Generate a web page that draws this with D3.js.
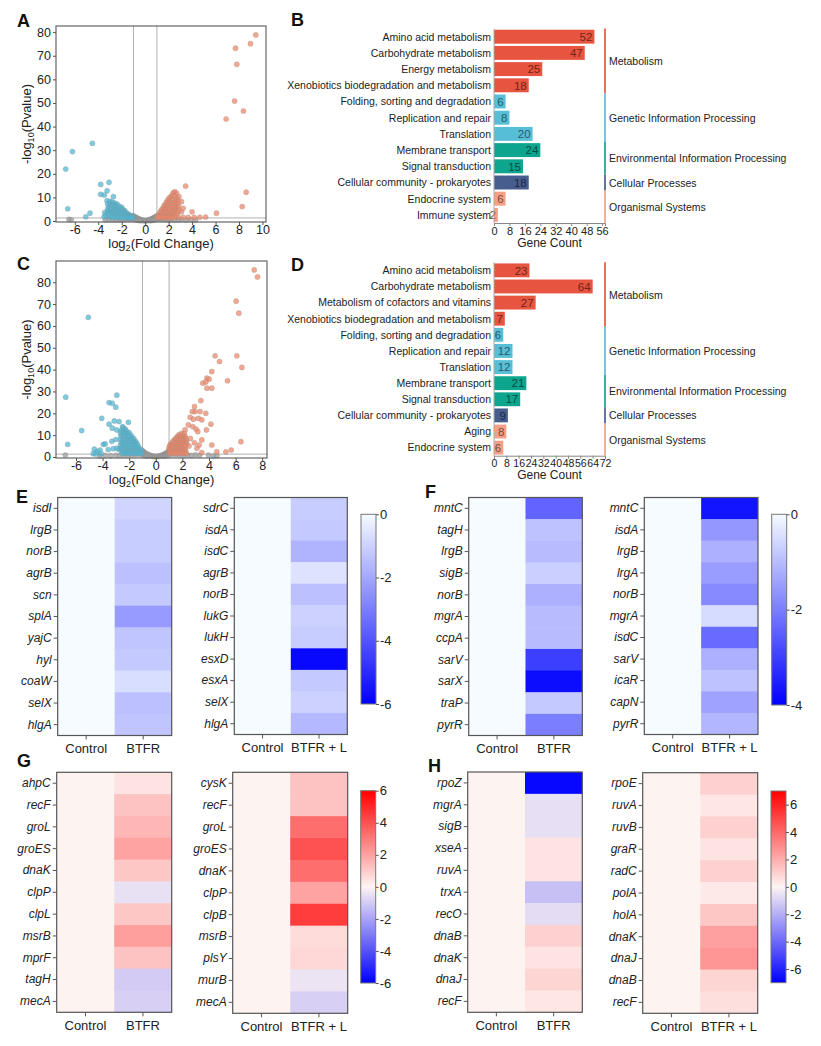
<!DOCTYPE html>
<html>
<head>
<meta charset="utf-8">
<script src="https://cdn.jsdelivr.net/npm/d3@7"></script>
<style>
body{margin:0;background:#fff;}
svg{font-family:Arial,"Liberation Sans",sans-serif;}
</style>
</head>
<body>
<script>
// ---------- volcano A (BTFR vs control) ----------
var aUp = [[9.43,78.8],[8.98,75.1],[7.70,73.2],[7.81,66.4],[7.62,50.8],[8.38,46.6],[6.90,43.2],[8.61,12.2],[8.27,6.1],[6.08,3.3],[3.45,14.8],[4.0,3.9],
	[2.54,12.4],[2.68,11.7],[2.88,10.3],[3.1,8.2],[3.24,5.4],[3.1,3.9],
	[2.82,1.6],[3.24,1.5],[3.67,1.5],[4.18,1.5],[4.66,1.6],[5.15,1.7],
	[2.4,12.0],[2.3,11.0],[2.2,10.2],[2.05,9.8],[2.5,10.5],[2.7,9.5],
	[1.9,8.8],[2.1,8.8],[2.35,9.0],[2.6,8.7],[2.8,8.5],
	[1.8,7.8],[2.0,7.8],[2.25,7.9],[2.5,7.7],[2.75,7.4],
	[1.65,6.8],[1.85,6.8],[2.1,6.8],[2.35,6.7],[2.6,6.6],[2.85,6.3],
	[1.55,5.8],[1.75,5.8],[2.0,5.8],[2.25,5.7],[2.5,5.6],[2.75,5.4],
	[1.4,4.8],[1.6,4.8],[1.85,4.8],[2.1,4.7],[2.35,4.6],[2.6,4.5],[2.85,4.4],
	[1.3,3.9],[1.5,3.9],[1.75,3.8],[2.0,3.8],[2.25,3.7],[2.5,3.6],[2.75,3.4],
	[1.2,3.0],[1.4,3.0],[1.65,2.9],[1.9,2.9],[2.15,2.8],[2.4,2.7],[2.65,2.6],
	[1.1,2.1],[1.3,2.1],[1.55,2.0],[1.8,2.0],[2.05,1.9],[2.3,1.9],[2.55,1.8],
	[1.05,1.5],[1.25,1.5],[1.5,1.5],[1.75,1.5],[2.0,1.45],[2.25,1.4]];
var aDown = [[-4.5,32.9],[-6.2,29.4],[-6.77,22.0],[-3.79,15.5],[-3.08,16.4],[-3.24,12.8],[-3.79,11.3],[-3.48,11.0],[-2.71,10.3],[-6.6,5.2],[-4.7,3.3],[-5.06,1.8],[-3.45,3.6],[-3.35,2.4],[-3.2,4.1],[-3.5,1.8],
	[-3.25,8.6],[-3.0,8.3],[-2.8,8.0],[-2.6,7.6],[-2.4,7.2],
	[-3.2,7.2],[-2.95,7.0],[-2.7,6.8],[-2.45,6.5],[-2.2,6.2],[-2.0,5.8],
	[-3.1,6.0],[-2.85,5.8],[-2.6,5.6],[-2.35,5.4],[-2.1,5.1],[-1.9,4.8],[-1.75,4.4],
	[-3.2,5.0],[-2.95,4.8],[-2.7,4.6],[-2.45,4.4],[-2.2,4.2],[-1.95,4.0],[-1.7,3.7],[-1.55,3.4],
	[-3.05,3.8],[-2.8,3.7],[-2.55,3.5],[-2.3,3.3],[-2.05,3.1],[-1.8,2.9],[-1.6,2.8],[-1.4,2.7],[-1.25,2.4],
	[-3.1,2.8],[-2.85,2.6],[-2.6,2.5],[-2.35,2.3],[-2.1,2.2],[-1.85,2.1],[-1.6,2.0],[-1.4,1.9],[-1.2,1.9],[-1.05,1.8],
	[-3.0,1.7],[-2.75,1.6],[-2.5,1.5],[-2.25,1.5],[-2.0,1.4],[-1.75,1.4],[-1.5,1.4],[-1.3,1.4],[-1.1,1.4]];
var aNs = [[-1.0,2.2],[-0.9,1.9],[-0.8,1.6],[-0.7,1.3],[-0.6,1.05],[-0.5,0.8],[-0.4,0.6],[-0.3,0.4],[-0.2,0.25],[-0.1,0.15],[0,0.1],[0.1,0.15],[0.2,0.25],[0.3,0.4],[0.4,0.6],[0.5,0.8],[0.6,1.05],[0.7,1.3],[0.8,1.6],[0.9,1.9],[1.0,2.2],
	[-0.95,1.3],[-0.85,1.0],[-0.75,0.8],[-0.65,0.6],[-0.55,0.45],[-0.45,0.3],[-0.35,0.2],[0.35,0.2],[0.45,0.3],[0.55,0.45],[0.65,0.6],[0.75,0.8],[0.85,1.0],[0.95,1.3],
	[-0.9,0.6],[-0.7,0.35],[-0.5,0.2],[0.5,0.2],[0.7,0.35],[0.9,0.6],
	[-1.2,0.9],[-1.4,0.8],[-1.6,0.7],[-1.8,0.6],[-2.0,0.5],[-2.2,0.5],[-2.5,0.4],[-2.8,0.5],[-3.1,0.6],[-3.4,0.4],[-6.5,0.7],[-6.3,0.5],
	[1.2,0.9],[1.4,0.8],[1.6,0.7],[1.8,0.6],[2.0,0.5],[2.2,0.5],[2.5,0.4],[2.8,0.5],[3.1,0.6],[3.5,0.4],[3.9,0.5],[4.3,0.3],
	[-1.1,1.1],[-1.3,1.0],[1.1,1.1],[1.3,1.0]];
var aXTicks = [-6,-4,-2,0,2,4,6,8,10];
var aYTicks = [0,10,20,30,40,50,60,70,80];

// ---------- volcano C (BTFR + L vs control) ----------
var cUp = [[7.40,85.6],[7.65,82.4],[6.04,71.3],[6.24,65.8],[6.09,46.3],[6.47,41.0],[5.39,34.9],[4.46,46.3],[4.79,43.7],[4.21,39.1],[3.84,36.1],[4.01,35.6],[3.53,33.8],[3.76,34.3],[3.84,31.5],[4.21,31.5],[3.39,25.8],[2.91,23.1],[2.96,20.8],[2.75,20.8],[3.33,20.8],[3.76,20.0],[3.2,17.7],[3.46,17.0],[2.58,18.2],[2.83,17.3],[4.14,15.0],[2.45,14.7],[2.78,13.9],[3.03,12.8],[3.16,11.6],[3.81,12.4],[2.2,12.4],[6.40,7.0],[3.46,7.8],[3.26,5.5],[3.09,4.0],[4.21,5.5],[5.67,3.2],[5.27,2.4],[4.59,2.4],[3.46,2.0],[2.6,8.5],[2.9,6.5],[2.5,5.0],
	[1.75,10.3],[1.95,10.8],[2.15,10.6],
	[1.6,9.3],[1.8,9.5],[2.0,9.6],[2.2,9.4],
	[1.45,8.3],[1.65,8.5],[1.85,8.6],[2.05,8.6],[2.25,8.4],
	[1.3,7.3],[1.5,7.5],[1.7,7.6],[1.9,7.6],[2.1,7.6],[2.3,7.4],
	[1.15,6.3],[1.35,6.5],[1.55,6.6],[1.75,6.6],[1.95,6.6],[2.15,6.6],[2.32,6.4],
	[1.05,5.3],[1.25,5.5],[1.45,5.6],[1.65,5.6],[1.85,5.6],[2.05,5.6],[2.25,5.5],
	[1.0,4.3],[1.2,4.5],[1.4,4.6],[1.6,4.6],[1.8,4.6],[2.0,4.6],[2.2,4.5],
	[1.0,3.4],[1.2,3.5],[1.4,3.6],[1.6,3.6],[1.8,3.6],[2.0,3.6],[2.2,3.5],
	[1.05,2.5],[1.25,2.6],[1.45,2.6],[1.65,2.6],[1.85,2.6],[2.05,2.6],[2.25,2.5],
	[1.1,1.7],[1.3,1.7],[1.5,1.7],[1.7,1.7],[1.9,1.7],[2.1,1.7],[2.3,1.6]];
var cDown = [[-6.77,27.4],[-2.93,28.3],[-3.51,24.9],[-3.27,24.6],[-3.01,22.8],[-4.06,17.7],[-5.57,12.1],[-5.07,63.9],[-3.12,16.5],[-3.51,15.0],[-2.76,16.2],[-2.06,15.9],[-3.27,13.2],[-2.93,12.4],[-2.5,13.9],[-6.62,5.8],[-3.94,5.8],[-4.62,3.6],[-4.19,3.2],[-3.57,3.4],[-3.19,3.8],[-2.93,4.0],[-2.76,3.4],[-4.7,1.5],[-4.5,1.4],[-4.1,1.5],[-3.3,7.2],[-3.0,8.0],[-4.4,2.5],[-3.8,6.0],
	[-2.45,13.2],[-2.3,12.9],
	[-2.6,12.0],[-2.4,12.1],[-2.2,11.8],[-2.0,11.2],
	[-2.65,10.8],[-2.45,10.9],[-2.25,10.7],[-2.05,10.4],[-1.85,9.8],
	[-2.6,9.5],[-2.4,9.5],[-2.2,9.4],[-2.0,9.2],[-1.8,8.9],[-1.65,8.4],
	[-2.65,8.1],[-2.45,8.1],[-2.25,8.0],[-2.05,7.9],[-1.85,7.7],[-1.65,7.3],[-1.5,7.0],
	[-2.6,6.7],[-2.4,6.7],[-2.2,6.7],[-2.0,6.6],[-1.8,6.5],[-1.6,6.3],[-1.4,6.0],
	[-2.65,5.4],[-2.45,5.4],[-2.25,5.4],[-2.05,5.3],[-1.85,5.3],[-1.65,5.2],[-1.45,5.0],[-1.3,4.8],
	[-2.6,4.1],[-2.4,4.1],[-2.2,4.1],[-2.0,4.0],[-1.8,4.0],[-1.6,3.9],[-1.4,3.8],[-1.2,3.6],[-1.05,3.2],
	[-2.55,2.8],[-2.35,2.8],[-2.15,2.8],[-1.95,2.7],[-1.75,2.7],[-1.55,2.6],[-1.35,2.6],[-1.15,2.5],
	[-2.5,1.7],[-2.3,1.7],[-2.1,1.7],[-1.9,1.7],[-1.7,1.6],[-1.5,1.6],[-1.3,1.6],[-1.1,1.6]];
var cNs = [[-1.0,2.8],[-0.9,2.3],[-0.8,1.9],[-0.7,1.5],[-0.6,1.2],[-0.5,0.9],[-0.4,0.7],[-0.3,0.5],[-0.2,0.35],[-0.1,0.25],[0,0.2],[0.1,0.25],[0.2,0.35],[0.3,0.5],[0.4,0.7],[0.5,0.9],[0.6,1.2],[0.7,1.5],[0.8,1.9],[0.9,2.3],[1.0,2.8],
	[-0.95,1.6],[-0.85,1.2],[-0.75,0.9],[-0.65,0.7],[-0.55,0.5],[0.55,0.5],[0.65,0.7],[0.75,0.9],[0.85,1.2],[0.95,1.6],
	[-0.9,0.7],[-0.7,0.45],[0.7,0.45],[0.9,0.7],
	[-1.2,1.1],[-1.5,1.0],[-1.8,0.9],[-2.1,0.8],[-2.4,0.9],[-2.7,0.7],[-3.0,0.8],[-3.4,0.6],[-3.8,0.7],[-4.2,0.5],[-6.8,0.9],
	[1.2,1.1],[1.5,1.0],[1.8,0.9],[2.1,0.8],[2.4,0.9],[2.7,0.7],[3.0,1.0],[3.3,0.8],[3.96,0.9],[4.33,0.5],[4.6,0.6]];
var cXTicks = [-6,-4,-2,0,2,4,6,8];
var cYTicks = [0,10,20,30,40,50,60,70,80];

// ---------- KEGG bars ----------
var groupNames = ["Metabolism","Genetic Information Processing","Environmental Information Processing","Cellular Processes","Organismal Systems"];
var groupColors = ["#E64B35","#4DBBD5","#00A087","#3C5488","#F39B7F"];

var bCats = ["Amino acid metabolism","Carbohydrate metabolism","Energy metabolism","Xenobiotics biodegradation and metabolism","Folding, sorting and degradation","Replication and repair","Translation","Membrane transport","Signal transduction","Cellular community - prokaryotes","Endocrine system","Immune system"];
var bVals = [52,47,25,18,6,8,20,24,15,18,6,2];
var bGroup = [0,0,0,0,1,1,1,2,2,3,4,4];
var bTicks = [0,8,16,24,32,40,48,56];

var dCats = ["Amino acid metabolism","Carbohydrate metabolism","Metabolism of cofactors and vitamins","Xenobiotics biodegradation and metabolism","Folding, sorting and degradation","Replication and repair","Translation","Membrane transport","Signal transduction","Cellular community - prokaryotes","Aging","Endocrine system"];
var dVals = [23,64,27,7,6,12,12,21,17,9,8,6];
var dGroup = [0,0,0,0,1,1,1,2,2,3,4,4];
var dTicks = [0,8,16,24,32,40,48,56,64,72];

// ---------- heatmaps (log2 fold change, control = 0) ----------
var eGenes1 = ["isdI","lrgB","norB","agrB","scn","splA","yajC","hyl","coaW","selX","hlgA"];
var eVals1 = [-0.9,-1.1,-1.1,-1.4,-1.2,-2.3,-1.3,-1.2,-0.7,-1.4,-1.3];
var eGenes2 = ["sdrC","isdA","isdC","agrB","norB","lukG","lukH","esxD","esxA","selX","hlgA"];
var eVals2 = [-1.1,-1.2,-1.7,-0.6,-1.4,-1.0,-1.1,-5.8,-1.2,-1.0,-1.6];
var fGenes1 = ["mntC","tagH","lrgB","sigB","norB","mgrA","ccpA","sarV","sarX","traP","pyrR"];
var fVals1 = [-2.4,-0.9,-1.0,-0.7,-1.2,-1.0,-1.0,-3.0,-3.8,-0.8,-2.0];
var fGenes2 = ["mntC","isdA","lrgB","lrgA","norB","mgrA","isdC","sarV","icaR","capN","pyrR"];
var fVals2 = [-3.7,-1.6,-1.2,-1.5,-1.8,-0.5,-2.3,-1.2,-0.9,-1.4,-1.1];
var gGenes1 = ["ahpC","recF","groL","groES","dnaK","clpP","clpL","msrB","mprF","tagH","mecA"];
var gVals1 = [0.4,1.2,1.5,2.0,1.1,-0.5,1.1,2.1,1.2,-1.0,-0.9];
var gGenes2 = ["cysK","recF","groL","groES","dnaK","clpP","clpB","msrB","plsY","murB","mecA"];
var gVals2 = [1.2,1.2,3.3,4.0,3.3,2.0,4.5,0.6,0.7,-0.4,-0.9];
var hGenes1 = ["rpoZ","mgrA","sigB","xseA","ruvA","trxA","recO","dnaB","dnaK","dnaJ","recF"];
var hVals1 = [-6.8,-0.6,-0.6,0.5,0.5,-1.5,-0.7,1.0,0.5,0.9,0.4];
var hGenes2 = ["rpoE","ruvA","ruvB","graR","radC","polA","holA","dnaK","dnaJ","dnaB","recF"];
var hVals2 = [1.0,0.4,1.0,0.5,1.0,0.3,1.3,2.4,2.7,0.9,0.6];
var controlVal = 0;
var eTicks = [0,-2,-4,-6], fTicks = [0,-2,-4], gTicks = [6,4,2,0,-2,-4,-6];

var svg = d3.select("body").append("svg").attr("width",821).attr("height",1046);
svg.append("rect").attr("width",821).attr("height",1046).attr("fill","#fff");

function letter(t,x,y){
	svg.append("text").attr("x",x).attr("y",y).attr("font-size",18).attr("font-weight","bold").attr("fill","#111").text(t);
}

function styleAxis(a, fs){
	a.select(".domain").remove();
	a.selectAll("line").attr("stroke","#555");
	a.selectAll("text").attr("font-size",fs).attr("fill","#222").attr("font-family","Arial, 'Liberation Sans', sans-serif");
}

function volcano(o){
	var g = svg.append("g");
	var x = d3.scaleLinear().domain(o.xd).range([o.l,o.r]);
	var y = d3.scaleLinear().domain(o.yd).range([o.b,o.t]);
	// cut-off lines
	[-1,1].forEach(function(v){
		g.append("line").attr("x1",x(v)).attr("x2",x(v)).attr("y1",o.t).attr("y2",o.b).attr("stroke","#b0b0b0").attr("stroke-width",1);
	});
	g.append("line").attr("x1",o.l).attr("x2",o.r).attr("y1",y(1.3)).attr("y2",y(1.3)).attr("stroke","#b0b0b0").attr("stroke-width",1);
	[[o.ns,"#9a9a9a"],[o.down,"#4cb6d2"],[o.up,"#ef8565"]].forEach(function(s){
		g.append("g").selectAll("circle").data(s[0]).enter().append("circle")
			.attr("cx",function(d){ return x(d[0]);}).attr("cy",function(d){ return y(d[1]);})
			.attr("r",2.6).attr("fill",s[1]).attr("fill-opacity",0.72)
			.attr("stroke","#8c8c8c").attr("stroke-opacity",0.45).attr("stroke-width",0.6);
	});
	g.append("rect").attr("x",o.l).attr("y",o.t).attr("width",o.r-o.l).attr("height",o.b-o.t)
		.attr("fill","none").attr("stroke","#666").attr("stroke-width",1.2);
	var ax = g.append("g").attr("transform","translate(0,"+o.b+")")
		.call(d3.axisBottom(x).tickValues(o.xt).tickSize(3).tickPadding(0).tickFormat(function(d){ return String(d);}));
	styleAxis(ax,12.5);
	var ay = g.append("g").attr("transform","translate("+o.l+",0)")
		.call(d3.axisLeft(y).tickValues(o.yt).tickSize(3).tickPadding(2).tickFormat(function(d){ return String(d);}));
	styleAxis(ay,12.5);
	var t = g.append("text").attr("transform","translate("+o.yl+","+((o.t+o.b)/2)+") rotate(-90)")
		.attr("text-anchor","middle").attr("font-size",13).attr("fill","#222");
	t.append("tspan").text("-log");
	t.append("tspan").attr("font-size",9).attr("dy",3).text("10");
	t.append("tspan").attr("dy",-3).text("(Pvalue)");
	var xt = g.append("text").attr("x",(o.l+o.r)/2).attr("y",o.xl).attr("text-anchor","middle").attr("font-size",13).attr("fill","#222");
	xt.append("tspan").text("log");
	xt.append("tspan").attr("font-size",9).attr("dy",3).text("2");
	xt.append("tspan").attr("dy",-3).text("(Fold Change)");
}

function bars(o){
	var g = svg.append("g");
	var y = d3.scaleBand().domain(d3.range(o.cats.length)).range([o.t,o.b]).paddingInner(0.14).paddingOuter(0.07);
	var x = d3.scaleLinear().domain([0,o.max]).range([o.l,o.r]);
	var half = y.step()*y.paddingInner()/2;
	g.selectAll("rect.bar").data(o.vals).enter().append("rect")
		.attr("x",o.l).attr("y",function(d,i){ return y(i);})
		.attr("width",function(d){ return x(d)-o.l;}).attr("height",y.bandwidth())
		.attr("fill",function(d,i){ return groupColors[o.grp[i]];}).attr("fill-opacity",0.95);
	g.selectAll("text.val").data(o.vals).enter().append("text")
		.attr("x",function(d){ return x(d)-2;}).attr("y",function(d,i){ return y(i)+y.bandwidth()/2+4.2;})
		.attr("text-anchor","end").attr("font-size",11.5)
		.attr("fill",function(d,i){ return d3.color(groupColors[o.grp[i]]).darker(2).formatHex();})
		.text(function(d){ return d;});
	g.selectAll("text.cat").data(o.cats).enter().append("text")
		.attr("x",o.l-3).attr("y",function(d,i){ return y(i)+y.bandwidth()/2+3.8;})
		.attr("text-anchor","end").attr("font-size",10.5).attr("fill","#222").text(function(d){ return d;});
	g.append("line").attr("x1",o.l).attr("x2",o.l).attr("y1",o.t).attr("y2",o.b).attr("stroke","#aaa");
	var ax = g.append("g").attr("transform","translate(0,"+o.b+")")
		.call(d3.axisBottom(x).tickValues(o.ticks).tickSize(3).tickPadding(1));
	ax.select(".domain").attr("stroke","#888");
	ax.selectAll("line").attr("stroke","#888");
	ax.selectAll("text").attr("font-size",o.tfs).attr("fill","#222");
	g.append("text").attr("x",(o.l+o.r)/2).attr("y",o.b+23.5).attr("text-anchor","middle").attr("font-size",12).attr("fill","#222").text("Gene Count");
	// group brackets
	groupNames.forEach(function(name,k){
		var idx = o.grp.map(function(d,i){ return d==k ? i : -1;}).filter(function(i){ return i>=0;});
		var y0 = y(idx[0])-half, y1 = y(idx[idx.length-1])+y.bandwidth()+half;
		g.append("line").attr("x1",o.r).attr("x2",o.r).attr("y1",y0).attr("y2",y1).attr("stroke",groupColors[k]).attr("stroke-width",1.6);
		g.append("text").attr("x",o.r+4).attr("y",(y0+y1)/2+4).attr("font-size",10.5).attr("fill","#222").text(name);
	});
}

function heat(o){
	var g = svg.append("g");
	var x = d3.scaleBand().domain(["Control",o.lab]).range([o.l,o.r]);
	var y = d3.scaleBand().domain(d3.range(o.genes.length)).range([o.t,o.b]);
	g.selectAll("rect.c").data(o.genes).enter().append("rect")
		.attr("x",x("Control")).attr("y",function(d,i){ return y(i);})
		.attr("width",x.bandwidth()+0.5).attr("height",y.bandwidth()+0.5).attr("fill",o.color(controlVal));
	g.selectAll("rect.t").data(o.vals).enter().append("rect")
		.attr("x",x(o.lab)).attr("y",function(d,i){ return y(i);})
		.attr("width",x.bandwidth()).attr("height",y.bandwidth()+0.5).attr("fill",function(d){ return o.color(d);});
	g.append("rect").attr("x",o.l).attr("y",o.t).attr("width",o.r-o.l).attr("height",o.b-o.t)
		.attr("fill","none").attr("stroke","#555").attr("stroke-width",1.2);
	var ay = g.append("g").attr("transform","translate("+o.l+",0)")
		.call(d3.axisLeft(y).tickSize(4).tickPadding(2).tickFormat(function(i){ return o.genes[i];}));
	styleAxis(ay,12);
	ay.selectAll("text").attr("font-style","italic");
	var ax = g.append("g").attr("transform","translate(0,"+o.b+")")
		.call(d3.axisBottom(x).tickSize(4).tickPadding(4));
	styleAxis(ax,13);
}

function colorbar(o){
	var id = "grad"+o.id;
	var s = d3.scaleLinear().domain(o.dom).range([o.b,o.t]);
	var lg = svg.append("defs").append("linearGradient").attr("id",id).attr("x1",0).attr("x2",0).attr("y1",0).attr("y2",1);
	var lo = o.dom[0], hi = o.dom[1];
	o.color.domain().slice().reverse().forEach(function(v){
		lg.append("stop").attr("offset",(hi-Math.max(lo,Math.min(hi,v)))/(hi-lo)).attr("stop-color",o.color(v));
	});
	svg.append("rect").attr("x",o.l).attr("y",o.t).attr("width",o.r-o.l).attr("height",o.b-o.t)
		.attr("fill","url(#"+id+")").attr("stroke","#777").attr("stroke-width",1);
	var a = svg.append("g").attr("transform","translate("+o.r+",0)")
		.call(d3.axisRight(s).tickValues(o.ticks).tickSize(3).tickPadding(1).tickFormat(function(d){ return String(d);}));
	styleAxis(a,13);
}

// panels A and C
volcano({l:56,r:266,t:26,b:222,xd:[-7.6,10.3],yd:[-0.42,82.6],xt:aXTicks,yt:aYTicks,up:aUp,down:aDown,ns:aNs,yl:31,xl:247.5});
volcano({l:56,r:267,t:261,b:458,xd:[-7.5,8.36],yd:[-0.46,89.7],xt:cXTicks,yt:cYTicks,up:cUp,down:cDown,ns:cNs,yl:31,xl:483.5});

// panels B and D
bars({cats:bCats,vals:bVals,grp:bGroup,ticks:bTicks,max:57.5,l:494,r:605,t:28.6,b:223,tfs:11});
bars({cats:dCats,vals:dVals,grp:dGroup,ticks:dTicks,max:72,l:494,r:605,t:262.3,b:455.7,tfs:10.5});

// colour scales
var blueE = d3.scaleLinear().domain([-6,0]).range(["#0000ff","#f5fbff"]);
var blueF = d3.scaleLinear().domain([-4,0]).range(["#0000ff","#f5fbff"]);
var divG = d3.scaleLinear().domain([-6,0,6]).range(["#0000ff","#fdf4f2","#ff0000"]);
var divH = d3.scaleLinear().domain([-7,0,7]).range(["#0000ff","#fdf4f2","#ff0000"]);

// panels E-H
heat({genes:eGenes1,vals:eVals1,lab:"BTFR",l:57.7,r:171.7,t:497.5,b:735.5,color:blueE});
heat({genes:eGenes2,vals:eVals2,lab:"BTFR + L",l:234.3,r:347.3,t:497.5,b:734.5,color:blueE});
colorbar({id:"e",l:361,r:376,t:514.3,b:704,dom:[-6,0],ticks:eTicks,color:blueE});

heat({genes:fGenes1,vals:fVals1,lab:"BTFR",l:468.7,r:582.3,t:497.5,b:735.5,color:blueF});
heat({genes:fGenes2,vals:fVals2,lab:"BTFR + L",l:644.3,r:758,t:497.5,b:734.5,color:blueF});
colorbar({id:"f",l:771.7,r:786.7,t:514.3,b:705,dom:[-4,0],ticks:fTicks,color:blueF});

heat({genes:gGenes1,vals:gVals1,lab:"BTFR",l:56.7,r:171.7,t:772.3,b:1012.3,color:divG});
heat({genes:gGenes2,vals:gVals2,lab:"BTFR + L",l:232.7,r:347.7,t:772.3,b:1013.3,color:divG});
colorbar({id:"g",l:360.7,r:375.7,t:790.7,b:983,dom:[-6,6],ticks:gTicks,color:divG});

heat({genes:hGenes1,vals:hVals1,lab:"BTFR",l:467.7,r:582.3,t:772,b:1012.3,color:divH});
heat({genes:hGenes2,vals:hVals2,lab:"BTFR + L",l:642.7,r:757.7,t:772.7,b:1013.3,color:divH});
colorbar({id:"h",l:771,r:786,t:791,b:982.7,dom:[-7,7],ticks:gTicks,color:divH});

letter("A",17,27); letter("B",291,26); letter("C",17,270); letter("D",291,271);
letter("E",16,503); letter("F",425,498); letter("G",17,767); letter("H",428,772);
</script>
</body>
</html>
